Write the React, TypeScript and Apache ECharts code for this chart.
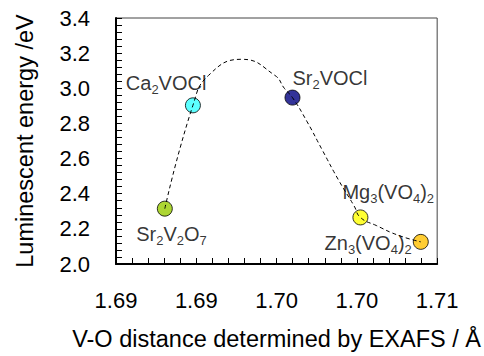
import React, { useEffect, useRef } from "react";
import * as echarts from "echarts";

// ---- data ----
const compoundLabels = [
  "{n|Sr}{s|2}{n|V}{s|2}{n|O}{s|7}",
  "{n|Ca}{s|2}{n|VOCl}",
  "{n|Sr}{s|2}{n|VOCl}",
  "{n|Mg}{s|3}{n|(VO}{s|4}{n|)}{s|2}",
  "{n|Zn}{s|3}{n|(VO}{s|4}{n|)}{s|2}",
];
const voDistance = [1.69054, 1.69229, 1.69849, 1.70272, 1.70648];
const luminescentEnergy = [2.315, 2.903, 2.947, 2.265, 2.126];

// dashed guide curve
const curveX = [
  1.69054, 1.69229, 1.69326, 1.69533, 1.6974, 1.69799, 1.69849,
  1.69938, 1.70036, 1.70135, 1.70233, 1.70272, 1.70371, 1.70509, 1.70648,
];
const curveY = [
  2.315, 2.903, 3.073, 3.165, 3.073, 2.999, 2.947,
  2.813, 2.646, 2.479, 2.33, 2.265, 2.219, 2.163, 2.126,
];

const xMin = 1.6875;
const xMax = 1.7075;
const xInterval = 0.005;
const yMin = 2.0;
const yMax = 3.4;
const yInterval = 0.2;

// ---- styles ----
const markerColors = ["#99cc00", "#33ffff", "#000080", "#ffff00", "#ffc000"];
const labelPlacement: { align: string; offset: number[] }[] = [
  { align: "center", offset: [6.7, 25] },
  { align: "right", offset: [13.5, -22.5] },
  { align: "left", offset: [0, -19.5] },
  { align: "left", offset: [-18, -25.5] },
  { align: "right", offset: [-9, 1] },
];

const FONT = "'Liberation Sans', Arial, Helvetica, sans-serif";

export default function App() {
  const ref = useRef<HTMLDivElement>(null);

  useEffect(() => {
    if (!ref.current) return;
    const chart = echarts.init(ref.current, undefined, { renderer: "svg" });

    const rich = {
      n: { fontSize: 20, lineHeight: 26, color: "#000", fontFamily: FONT },
      s: { fontSize: 13, lineHeight: 13, color: "#000", fontFamily: FONT, verticalAlign: "bottom" },
    };

    const pointData = voDistance.map((x, i) => ({
      value: [x, luminescentEnergy[i]],
      itemStyle: { color: markerColors[i], borderColor: "#000", borderWidth: 1 },
      label: {
        show: true,
        formatter: compoundLabels[i],
        rich,
        position: "inside",
        align: labelPlacement[i].align,
        verticalAlign: "middle",
        offset: labelPlacement[i].offset,
      },
    }));

    const option: any = {
      animation: false,
      backgroundColor: "#fff",
      textStyle: { fontFamily: FONT },
      grid: {
        left: 116,
        right: 30,
        top: 18,
        bottom: 87,
        show: true,
        borderColor: "#444",
        borderWidth: 1,
        backgroundColor: "transparent",
      },
      xAxis: {
        type: "value",
        min: xMin,
        max: xMax,
        interval: xInterval,
        name: "V-O distance determined by EXAFS / Å",
        nameLocation: "middle",
        nameGap: 63,
        nameTextStyle: { fontSize: 23.5, color: "#000", fontFamily: FONT },
        axisLine: { show: true, lineStyle: { color: "#000", width: 2 } },
        axisTick: { show: true, inside: true, length: 6, lineStyle: { color: "#000" } },
        minorTick: { show: true, splitNumber: 5, length: 6, lineStyle: { color: "#000" } },
        splitLine: { show: false },
        axisLabel: {
          fontSize: 22,
          color: "#000",
          fontFamily: FONT,
          margin: 25,
          showMinLabel: true,
          showMaxLabel: true,
          formatter: (v: number) => v.toFixed(2),
        },
      },
      yAxis: {
        type: "value",
        min: yMin,
        max: yMax,
        interval: yInterval,
        name: "Luminescent energy /eV",
        nameLocation: "middle",
        nameGap: 79,
        nameTextStyle: { fontSize: 23.5, color: "#000", fontFamily: FONT },
        axisLine: { show: true, lineStyle: { color: "#000", width: 2 } },
        axisTick: { show: true, inside: true, length: 6, lineStyle: { color: "#000" } },
        minorTick: { show: true, splitNumber: 5, length: 6, lineStyle: { color: "#000" } },
        splitLine: { show: false },
        axisLabel: {
          fontSize: 22,
          color: "#000",
          fontFamily: FONT,
          margin: 26,
          formatter: (v: number) => v.toFixed(1),
        },
      },
      series: [
        {
          type: "scatter",
          name: "compounds",
          symbol: "circle",
          symbolSize: 15,
          data: pointData,
          z: 2,
        },
        {
          type: "line",
          name: "guide",
          data: curveX.map((x, i) => [x, curveY[i]]),
          smooth: 0.5,
          showSymbol: false,
          symbol: "none",
          lineStyle: { color: "#000", width: 1, type: [4, 3] },
          z: 3,
          silent: true,
        },
      ],
    };

    chart.setOption(option);
    return () => chart.dispose();
  }, []);

  return (
    <div
      ref={ref}
      style={{ position: "absolute", left: 0, top: 0, width: 484, height: 356, background: "#fff" }}
    />
  );
}
